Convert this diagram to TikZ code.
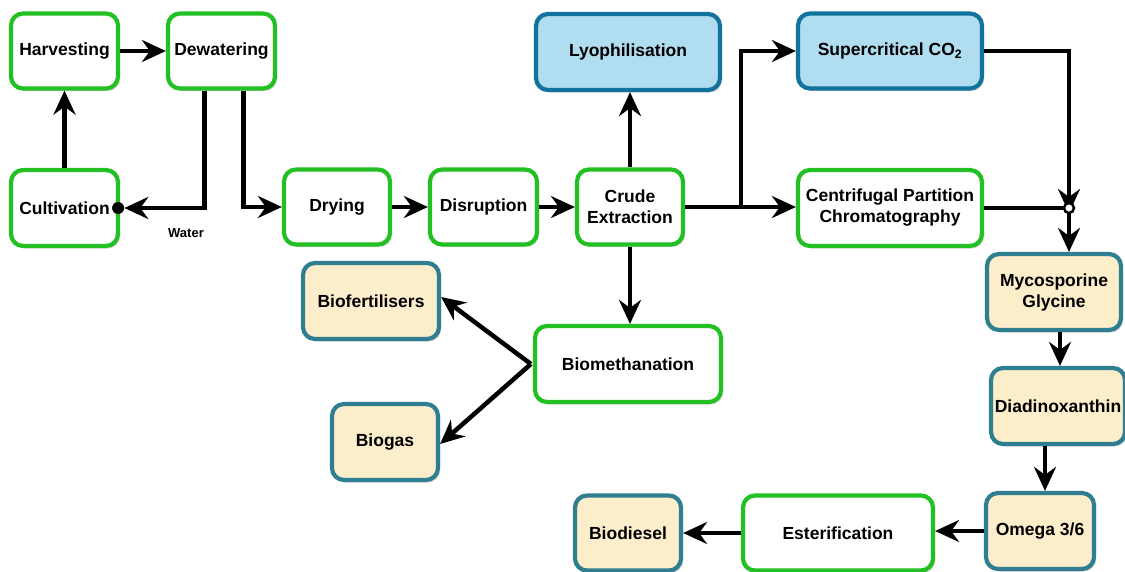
\documentclass[tikz,border=0pt]{standalone}
\usepackage{fontspec}
\setmainfont{Liberation Sans}
\usetikzlibrary{arrows.meta,shadows,calc}
\definecolor{grn}{HTML}{22C022}
\definecolor{bluefill}{HTML}{B1DDF0}
\definecolor{bluedraw}{HTML}{10739E}
\definecolor{beigefill}{HTML}{FCEDCB}
\definecolor{beigedraw}{HTML}{2F7E91}
\tikzset{
  box/.style={rectangle, rounded corners=12pt, line width=4.2pt, align=center,
    font=\fontsize{17.5}{21}\selectfont\bfseries, inner sep=2pt,
    drop shadow={shadow xshift=2pt, shadow yshift=-2.5pt, fill=black!25, opacity=0.6}},
  gbox/.style={box, draw=grn, fill=white},
  bbox/.style={box, draw=bluedraw, fill=bluefill},
  ybox/.style={box, draw=beigedraw, fill=beigefill},
  arr/.style={line width=4.5pt, -{Stealth[length=24pt 0 0,width=22pt 0 0,inset=8pt 0 0]}},
  ln/.style={line width=4.5pt},
  junc/.style={circle, draw=black, fill=white, line width=2.5pt, inner sep=0pt, minimum size=10pt},
}
\begin{document}
\begin{tikzpicture}[x=1pt,y=-1pt]
\path[use as bounding box] (0,0) rectangle (1125,571);
\node[gbox, minimum width=107pt, minimum height=75pt] (harv) at (64.5,51) {Harvesting};
\node[gbox, minimum width=107pt, minimum height=75pt] (dew) at (221.5,51) {Dewatering};
\node[gbox, minimum width=107pt, minimum height=76pt] (cult) at (64.5,208) {Cultivation};
\node[gbox, minimum width=106pt, minimum height=75pt] (dry) at (337,207) {Drying};
\node[gbox, minimum width=107pt, minimum height=75pt] (disr) at (483.5,207) {Disruption};
\node[gbox, minimum width=106pt, minimum height=75pt] (crude) at (630,207) {Crude\\Extraction};
\node[bbox, minimum width=184pt, minimum height=76pt] (lyo) at (628,52) {Lyophilisation};
\node[bbox, minimum width=184pt, minimum height=75pt] (sc) at (890,51) {Supercritical CO\textsubscript{2}};
\node[gbox, minimum width=184pt, minimum height=76pt] (cpc) at (890,208) {Centrifugal Partition\\Chromatography};
\node[ybox, minimum width=134pt, minimum height=76pt] (myco) at (1054,292) {Mycosporine\\Glycine};
\node[ybox, minimum width=134pt, minimum height=76pt] (diad) at (1058,406) {Diadinoxanthin};
\node[ybox, minimum width=108pt, minimum height=76pt] (omega) at (1040,531) {Omega 3/6};
\node[gbox, minimum width=190pt, minimum height=75pt] (est) at (838,533) {Esterification};
\node[ybox, minimum width=106pt, minimum height=75pt] (biod) at (628,533) {Biodiesel};
\node[gbox, minimum width=186pt, minimum height=76pt] (bm) at (628,364) {Biomethanation};
\node[ybox, minimum width=136pt, minimum height=76pt] (bf) at (371,301) {Biofertilisers};
\node[ybox, minimum width=106pt, minimum height=76pt] (bg) at (385,442) {Biogas};
\node[font=\fontsize{13}{15}\selectfont\bfseries] (water) at (186,233) {Water};
\node[circle, fill=black, inner sep=0pt, minimum size=12pt] (wd) at ([xshift=-2pt]cult.east) {};
\coordinate (j) at (1069,208);
% connectors
\draw[arr] (harv) -- (dew);
\draw[arr] (cult) -- (harv);
\draw[arr] ([xshift=-17pt]dew.south) |- (wd.east);
\draw[arr] ([xshift=22pt]dew.south) |- (dry.west);
\draw[arr] (dry) -- (disr);
\draw[arr] (disr) -- (crude);
\draw[arr] (crude.north) -- (crude.north |- lyo.south);
\draw[arr] (crude.east) -- (crude.east -| cpc.west);
\draw[ln] (crude.east) -- ++(56,0) coordinate (br);
\draw[arr] (br) |- (sc.west);
\draw[arr] (crude.south) -- (crude.south |- bm.north);
\draw[arr] (sc.east) -| ([yshift=-5pt]j);
\draw[ln] (cpc.east) -- (j);
\draw[arr] (j) -- (j |- myco.north);
\draw[arr] (1060,332) coordinate (m1) -- (m1 |- diad.north);
\draw[arr] (1045,446) coordinate (d1) -- (d1 |- omega.north);
\draw[arr] (omega.west) -- (omega.west -| est.east);
\draw[arr] (est.west) -- (est.west -| biod.east);
\draw[arr] ([xshift=-2pt]bm.west) -- ([yshift=4pt]bf.east);
\draw[arr] ([xshift=-2pt]bm.west) -- ([yshift=-2pt]bg.east);
\node[junc] (jc) at (j) {};
\end{tikzpicture}
\end{document}
